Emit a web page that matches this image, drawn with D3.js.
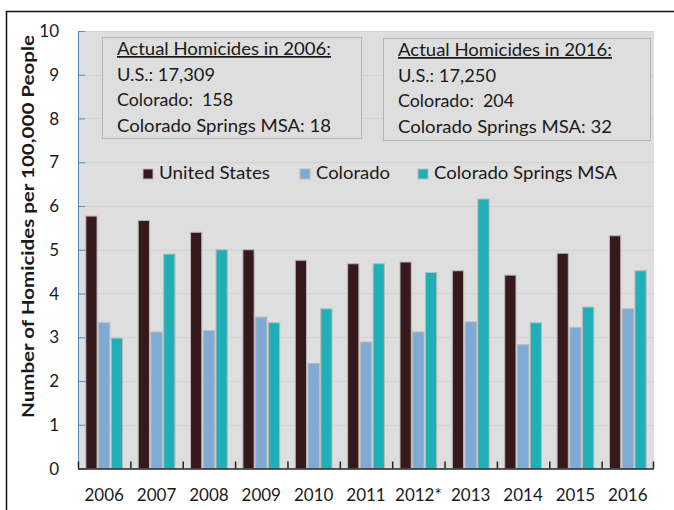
<!DOCTYPE html>
<html><head><meta charset="utf-8">
<script src="https://cdn.jsdelivr.net/npm/d3@7"></script>
<style>body{margin:0;background:#fff}svg{display:block}text{font-family:Lato,"Open Sans",sans-serif;fill:#1a1a1a}</style>
</head><body><svg id="c" width="674" height="510"></svg>
<script>
const years = ["2006","2007","2008","2009","2010","2011","2012*","2013","2014","2015","2016"];
const unitedStates = [5.77,5.67,5.40,5.00,4.76,4.68,4.72,4.52,4.42,4.92,5.32];
const colorado = [3.33,3.12,3.15,3.46,2.40,2.89,3.12,3.35,2.83,3.22,3.65];
const springsMSA = [2.98,4.90,5.00,3.33,3.65,4.68,4.48,6.16,3.33,3.69,4.52];
const seriesNames = ["United States","Colorado","Colorado Springs MSA"];
const seriesColors = ["#36191c","#7eaad5","#21afb7"];
const yTicks = [0,1,2,3,4,5,6,7,8,9,10];
const box2006 = ["Actual Homicides in 2006:","U.S.: 17,309","Colorado:  158","Colorado Springs MSA: 18"];
const box2016 = ["Actual Homicides in 2016:","U.S.: 17,250","Colorado:  204","Colorado Springs MSA: 32"];
const yLabel = "Number of Homicides per 100,000 People";

const svg = d3.select("#c");
const L = 78, R = 654, T = 31, B = 468.5;
const x = d3.scaleBand().domain(years).range([L, R]).paddingInner(0.26).paddingOuter(0.13);
const xOuter = d3.scaleBand().domain(years).range([L, R]);
const x1 = d3.scaleBand().domain([0,1,2]).range([0, x.bandwidth()]).padding(0.04);
const y = d3.scaleLinear().domain([0,10]).range([B, T]);

// outer frame
svg.append("line").attr("x1",6.5).attr("x2",6.5).attr("y1",11).attr("y2",510).attr("stroke","#111").attr("stroke-width",1.5);
svg.append("line").attr("x1",6).attr("x2",674).attr("y1",11.5).attr("y2",11.5).attr("stroke","#111").attr("stroke-width",1.5);

// plot bg
svg.append("rect").attr("x",L).attr("y",T).attr("width",R-L).attr("height",B-T).attr("fill","#dedede");
svg.append("g").selectAll("line").data(yTicks.slice(1)).join("line")
  .attr("x1",L).attr("x2",R).attr("y1",d=>Math.round(y(d))+0.5).attr("y2",d=>Math.round(y(d))+0.5)
  .attr("stroke","#d2d2d2").attr("stroke-width",1);

// text boxes
const boxWidths = [214, 98, 116, 214];
function box(lines, bx, by, bw, bh, tx){
  svg.append("rect").attr("x",bx+0.5).attr("y",by+0.5).attr("width",bw).attr("height",bh)
    .attr("fill","#dedede").attr("stroke","#b4b4b4").attr("stroke-width",1);
  lines.forEach((t,i)=>{
    svg.append("text").attr("x",tx).attr("y",by+18+i*25.7).attr("font-size",17.5)
      .attr("textLength",boxWidths[i]).attr("lengthAdjust","spacingAndGlyphs")
      .style("text-decoration", i===0 ? "underline" : null)
      .attr("xml:space","preserve").text(t);
  });
}
box(box2006, 102, 37, 259, 101, 117);
box(box2016, 383, 38, 267, 102, 398);

// bars
const data = years.map((yr,i)=>({yr, v:[unitedStates[i],colorado[i],springsMSA[i]]}));
const g = svg.append("g").selectAll("g").data(data).join("g").attr("transform",d=>`translate(${x(d.yr)},0)`);
g.selectAll("rect").data(d=>d.v.map((v,k)=>({v,k}))).join("rect")
  .attr("x",d=>x1(d.k)+0.5).attr("width",x1.bandwidth()-1)
  .attr("y",d=>y(d.v)).attr("height",d=>B-y(d.v))
  .attr("fill",d=>seriesColors[d.k]).attr("stroke","#b9b9b9").attr("stroke-width",1);

// y axis
const ya = svg.append("g").attr("transform",`translate(${L},0)`)
  .call(d3.axisRight(y).tickValues(yTicks).tickSize(7).tickFormat(""));
ya.select(".domain").attr("stroke","#5a87c6").attr("d",`M0.5,${T}V${B}`);
ya.selectAll(".tick line").attr("stroke","#5a87c6");
svg.append("g").selectAll("text").data(yTicks).join("text")
  .attr("x",59).attr("y",d=>y(d)+6).attr("text-anchor","end").attr("font-size",17).text(d=>d);

// x axis
const xa = svg.append("g").attr("transform",`translate(0,${B})`);
xa.append("line").attr("x1",L).attr("x2",R).attr("y1",0.5).attr("y2",0.5).attr("stroke","#222").attr("stroke-width",1.5);
xa.selectAll("line.t").data(years.concat(["end"])).join("line").attr("class","t")
  .attr("x1",(d,i)=> i<years.length ? xOuter(d)+0.5 : R-0.5).attr("x2",(d,i)=> i<years.length ? xOuter(d)+0.5 : R-0.5)
  .attr("y1",-7).attr("y2",0).attr("stroke","#222").attr("stroke-width",1.5);
svg.append("g").selectAll("text").data(years).join("text")
  .attr("x",d=>xOuter(d)+xOuter.bandwidth()/2).attr("y",501).attr("text-anchor","middle").attr("font-size",17).text(d=>d);

// y label
svg.append("text").attr("transform",`translate(34,${(35+418)/2}) rotate(-90)`).attr("text-anchor","middle")
  .attr("font-size",17).attr("font-weight","bold")
  .attr("textLength",383).attr("lengthAdjust","spacingAndGlyphs").text(yLabel);

// legend
const legX = [143, 300, 418];
const legW = [111, 74, 183];
const lg = svg.append("g").selectAll("g").data(seriesNames).join("g").attr("transform",(d,i)=>`translate(${legX[i]},169)`);
lg.append("rect").attr("width",10).attr("height",10).attr("fill",(d,i)=>seriesColors[i]).attr("stroke","#b9b9b9");
lg.append("text").attr("x",16).attr("y",10).attr("font-size",17.5)
  .attr("textLength",(d,i)=>legW[i]).attr("lengthAdjust","spacingAndGlyphs").text(d=>d);
</script></body></html>
